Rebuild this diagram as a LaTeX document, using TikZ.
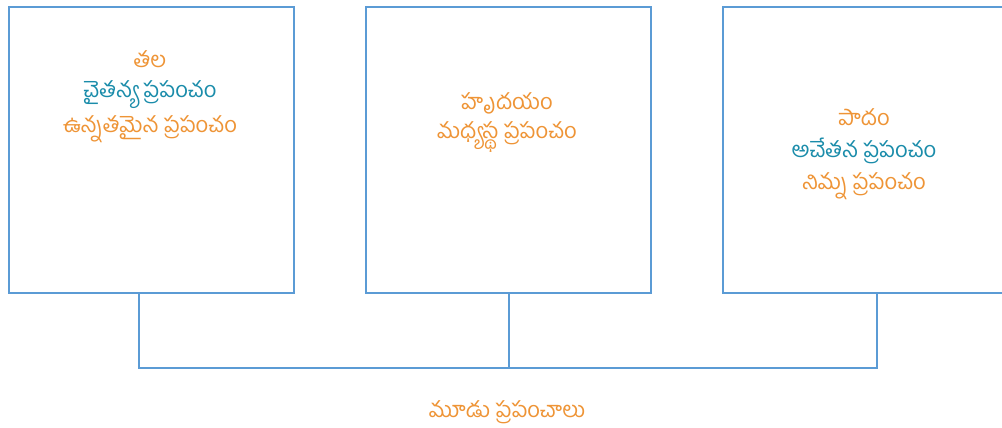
\documentclass[tikz,border=0pt]{standalone}
\usepackage{fontspec}
\newfontfamily\telugu[Script=Telugu]{Hind Guntur}
\definecolor{boxblue}{HTML}{5B9BD5}
\definecolor{torange}{HTML}{EE9436}
\definecolor{tteal}{HTML}{1A8CAA}
\begin{document}
\begin{tikzpicture}[x=1pt,y=-1pt,
  panel/.style={draw=boxblue,line width=1.6pt,minimum width=285pt,minimum height=286pt,anchor=north west,inner sep=0pt},
  lbl/.style={font=\telugu\fontsize{22}{26}\selectfont,inner sep=0pt,anchor=center},
  link/.style={draw=boxblue,line width=1.6pt}]
\useasboundingbox (0,0) rectangle (1002,428);
\node[panel] (b1) at (8,6) {};
\node[panel] (b2) at (365,6) {};
\node[panel] (b3) at (722,6) {};
\node[lbl,text=torange] (t1a) at (150,59) {తల};
\node[lbl,text=tteal] (t1b) at (150,95) {చైతన్య ప్రపంచం};
\node[lbl,text=torange] (t1c) at (150,129) {ఉన్నతమైన ప్రపంచం};
\node[lbl,text=torange] (t2a) at (507,103) {హృదయం};
\node[lbl,text=torange] (t2b) at (507,137) {మధ్యస్థ ప్రపంచం};
\node[lbl,text=torange] (t3a) at (864,117) {పాదం};
\node[lbl,text=tteal] (t3b) at (864,151) {అచేతన ప్రపంచం};
\node[lbl,text=torange] (t3c) at (864,186) {నిమ్న ప్రపంచం};
\node[lbl,text=torange] (all) at (507,412) {మూడు ప్రపంచాలు};
\coordinate (j1) at (139,368);
\coordinate (j2) at (509,368);
\coordinate (j3) at (877,368);
\draw[link] (b1.south west -| j1) -- (j1) -- (j3) -- (b3.south west -| j3);
\draw[link] (b2.south west -| j2) -- (j2);
\end{tikzpicture}
\end{document}
